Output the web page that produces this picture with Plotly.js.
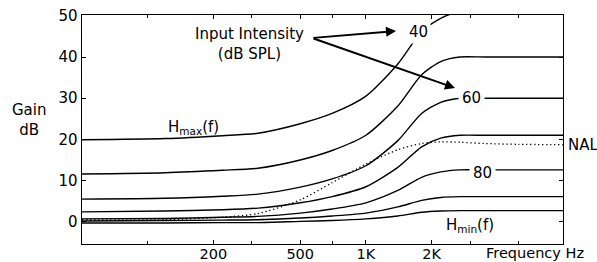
<!DOCTYPE html>
<html>
<head>
<meta charset="utf-8">
<script src="https://cdn.plot.ly/plotly-3.0.1.min.js"></script>
<style>html,body{margin:0;padding:0;background:#fff;}#chart{width:597px;height:262px;}</style>
</head>
<body>
<div id="chart"></div>
<script>
// Frequency grid (Hz)
const freqHz = [50, 120, 220, 320, 500, 700, 1000, 1400, 1800, 2200, 2700, 3500, 5000, 8000];
// Gain (dB) for each input intensity (dB SPL)
const gain40  = [19.9, 20.2, 20.9, 21.5, 23.8, 26.3, 30.5, 38.3, 46.2, 49.4, 51, 51, 51, 51];
const gain50  = [11.6, 11.9, 12.5, 13.0, 15.0, 17.3, 21.0, 28.1, 35.7, 38.9, 40, 40, 40, 40];
const gain60  = [5.5, 5.7, 6.2, 6.7, 8.4, 10.4, 13.6, 19.7, 26.3, 29.0, 30, 30, 30, 30];
const gain70  = [2.4, 2.6, 2.9, 3.3, 4.6, 6.1, 8.5, 13.2, 18.2, 20.3, 21, 21, 21, 21];
const gain80  = [0.7, 0.8, 1.1, 1.3, 2.1, 3.1, 4.6, 7.6, 10.8, 12.1, 12.6, 12.6, 12.6, 12.6];
const gain90  = [0.2, 0.3, 0.4, 0.5, 0.9, 1.4, 2.1, 3.6, 5.2, 5.9, 6.1, 6.1, 6.1, 6.1];
const gain100 = [-0.3, -0.3, -0.2, -0.2, 0.1, 0.3, 0.7, 1.4, 2.3, 2.6, 2.7, 2.7, 2.7, 2.7];
const nalGain = [0.5, 0.5, 1.1, 2.0, 5.3, 9.5, 14.0, 17.5, 19.0, 19.4, 19.3, 19.0, 18.8, 18.7];

const xTickVals = [200, 500, 1000, 2000];
const xTickText = ['200', '500', '1K', '2K'];
const xMinorVals = [100, 300, 700, 3000, 5000];
const yTickVals = [0, 10, 20, 30, 40, 50];

const FONT = 'DejaVu Sans, Arial, sans-serif';
const solid = {color: '#000', width: 1.4, shape: 'spline', smoothing: 0.7};

const series = [gain40, gain50, gain60, gain70, gain80, gain90, gain100];
const traces = series.map(g => ({
  x: freqHz, y: g, type: 'scatter', mode: 'lines', line: solid, hoverinfo: 'skip'
}));
traces.push({
  x: freqHz, y: nalGain, type: 'scatter', mode: 'lines',
  line: {color: '#000', width: 1.3, dash: '1.3px,2.7px', shape: 'spline', smoothing: 0.7}, hoverinfo: 'skip'
});

// plot area pixel geometry helpers (for label placement only)
const L = 82, R = 563, T = 15, B = 244;
const px = x => (x - L) / (R - L);
const py = y => (B - y) / (B - T);

const txt = (text, x, y, extra) => Object.assign({
  text: text, xref: 'paper', yref: 'paper', x: px(x), y: py(y),
  showarrow: false, font: {family: FONT, size: 15, color: '#000'},
  xanchor: 'center', yanchor: 'middle'
}, extra || {});

const annotations = [
  txt('Input Intensity<br>(dB SPL)', 249, 44),
  txt('40', 418, 32, {bgcolor: '#fff', borderpad: 2}),
  txt('60', 471, 98, {bgcolor: '#fff', borderpad: 3}),
  txt('80', 482, 173, {bgcolor: '#fff', borderpad: 3}),
  txt('H<sub>max</sub>(f)', 193, 127),
  txt('H<sub>min</sub>(f)', 470, 225),
  txt('NAL', 566, 145, {xanchor: 'left'}),
  txt('Gain<br>dB', 29, 120),
  txt('Frequency Hz', 535, 253, {font: {family: FONT, size: 14.5, color: '#000'}}),
  // arrows
  {xref: 'paper', yref: 'paper', x: px(396), y: py(31), ax: 312 - 396, ay: 38 - 31,
   showarrow: true, arrowhead: 2, arrowsize: 1, arrowwidth: 2, arrowcolor: '#000', text: ''},
  {xref: 'paper', yref: 'paper', x: px(455), y: py(88), ax: 312 - 455, ay: 38 - 88,
   showarrow: true, arrowhead: 2, arrowsize: 1, arrowwidth: 2, arrowcolor: '#000', text: ''}
];

const layout = {
  width: 597, height: 262,
  margin: {l: L, r: 597 - R, t: T, b: 262 - B, pad: 0},
  paper_bgcolor: '#fff', plot_bgcolor: '#fff',
  showlegend: false,
  font: {family: FONT, size: 15, color: '#000'},
  xaxis: {
    type: 'log', range: [Math.log10(50), Math.log10(8000)],
    tickmode: 'array', tickvals: xTickVals, ticktext: xTickText,
    ticks: 'inside', ticklen: 4, tickwidth: 1, tickcolor: '#000',
    minor: {tickmode: 'array', tickvals: xMinorVals, ticks: 'inside', ticklen: 3, tickcolor: '#000', showgrid: false},
    showline: true, linecolor: '#000', linewidth: 1.4, mirror: 'ticks',
    showgrid: false, zeroline: false, ticklabelstandoff: -4,
    tickfont: {family: FONT, size: 14.5, color: '#000'}
  },
  yaxis: {
    range: [-5.4, 50.2],
    tickmode: 'array', tickvals: yTickVals,
    ticks: 'inside', ticklen: 4, tickwidth: 1, tickcolor: '#000',
    showline: true, linecolor: '#000', linewidth: 1.4, mirror: 'ticks',
    showgrid: false, zeroline: false,
    tickfont: {family: FONT, size: 15, color: '#000'}
  },
  annotations: annotations
};

Plotly.newPlot('chart', traces, layout, {staticPlot: true, displayModeBar: false});
</script>
</body>
</html>
